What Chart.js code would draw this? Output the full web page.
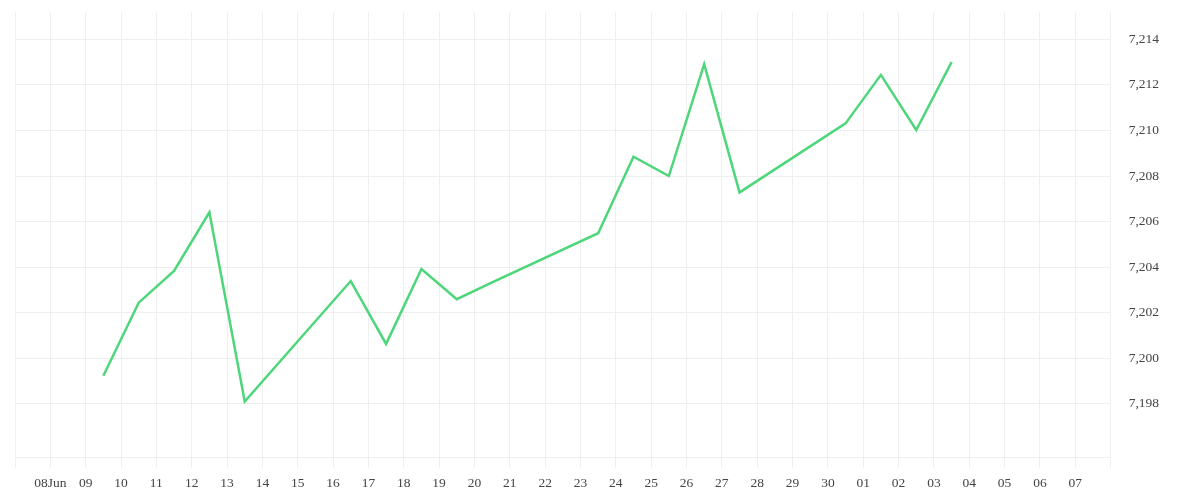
<!DOCTYPE html>
<html>
<head>
<meta charset="utf-8">
<script src="https://cdn.jsdelivr.net/npm/chart.js@4/dist/chart.umd.min.js"></script>
<style>
  html, body { margin: 0; padding: 0; background: #ffffff; }
  #wrap { width: 1200px; height: 500px; }
</style>
</head>
<body>
<div id="wrap"><canvas id="c" width="1200" height="500"></canvas></div>
<script>
// ---- data ----
const axisStartDate = '2014-06-07';
const tickLabels = ['08Jun','09','10','11','12','13','14','15','16','17','18','19','20','21','22','23','24','25','26','27','28','29','30','01','02','03','04','05','06','07'];
const dates = ['2014-06-09','2014-06-10','2014-06-11','2014-06-12','2014-06-13',
               '2014-06-16','2014-06-17','2014-06-18','2014-06-19','2014-06-20',
               '2014-06-23','2014-06-24','2014-06-25','2014-06-26','2014-06-27',
               '2014-06-30','2014-07-01','2014-07-02','2014-07-03'];
const values = [7199.23, 7202.44, 7203.83, 7206.41, 7198.10,
                7203.39, 7200.63, 7203.92, 7202.59, 7203.33,
                7205.49, 7208.85, 7208.00, 7212.91, 7207.28,
                7210.31, 7212.44, 7210.02, 7213.00];
const yTickValues = [7198, 7200, 7202, 7204, 7206, 7208, 7210, 7212, 7214];

// ---- build ----
const DAY = 86400000;
const t0 = Date.parse(axisStartDate + 'T00:00:00Z');
const points = dates.map((d, i) => ({
  x: (Date.parse(d + 'T00:00:00Z') - t0) / DAY + 0.5,
  y: values[i]
}));

const gridColor = '#efefef';
const fontSpec = { family: '"Liberation Serif", "DejaVu Serif", serif', size: 13.5 };

new Chart(document.getElementById('c'), {
  type: 'line',
  data: {
    datasets: [{
      data: points,
      borderColor: '#4ed67b',
      borderWidth: 2.5,
      pointRadius: 0,
      pointHoverRadius: 0,
      tension: 0,
      fill: false
    }]
  },
  options: {
    responsive: false,
    animation: false,
    events: [],
    layout: { padding: { left: 15, top: 12, right: 23, bottom: 0 } },
    plugins: { legend: { display: false }, tooltip: { enabled: false } },
    scales: {
      x: {
        type: 'linear',
        min: 0,
        max: tickLabels.length + 1,
        afterFit: (axis) => { axis.paddingLeft = 0; axis.paddingRight = 0; },
        grid: { color: gridColor, lineWidth: 1, drawTicks: true, tickLength: 10, tickColor: gridColor },
        border: { display: true, color: gridColor },
        ticks: {
          stepSize: 1,
          autoSkip: false,
          maxRotation: 0,
          padding: 8,
          color: '#444',
          font: fontSpec,
          callback: (v) => (v >= 1 && v <= tickLabels.length) ? tickLabels[v - 1] : ''
        }
      },
      y: {
        position: 'right',
        min: 7195.63,
        max: 7215.2,
        afterBuildTicks: (axis) => { axis.ticks = yTickValues.map(v => ({ value: v })); },
        afterFit: (axis) => { axis.paddingTop = 0; axis.paddingBottom = 0; },
        grid: { color: gridColor, lineWidth: 1, drawTicks: false },
        border: { display: true, color: gridColor },
        ticks: {
          padding: 18,
          color: '#444',
          font: fontSpec,
          callback: (v) => v.toLocaleString('en-US')
        }
      }
    }
  }
});
</script>
</body>
</html>
